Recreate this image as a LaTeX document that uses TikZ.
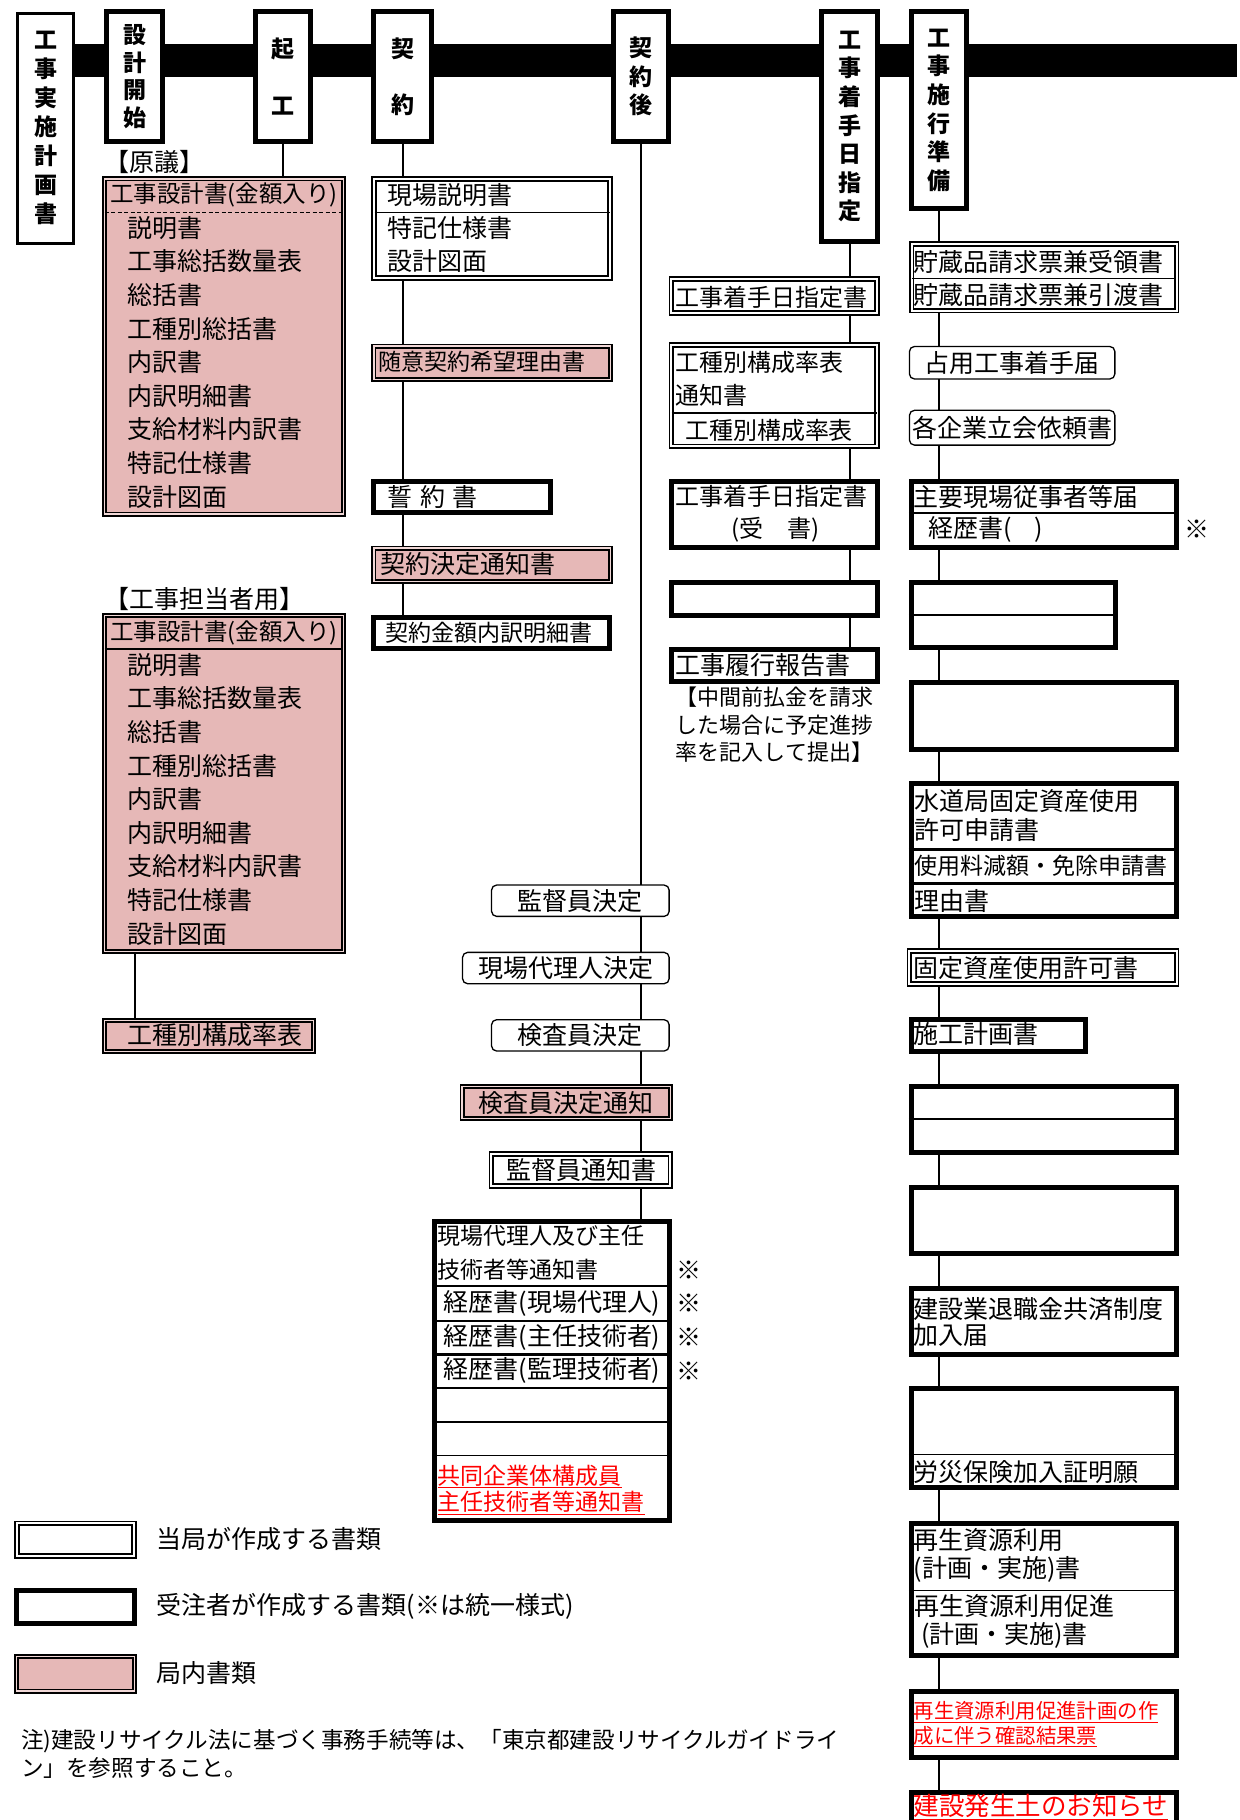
\documentclass[tikz,border=0pt]{standalone}
\usepackage{fontspec}
\setmainfont{Noto Sans CJK JP}
\usetikzlibrary{fit,backgrounds}
\begin{document}
\begin{tikzpicture}[x=1.161pt,y=-1.161pt,
  hdr/.style={draw,fill=white,line width=5pt,inner sep=-2.5pt},
  vtxt/.style={inner sep=0pt,align=center,font=\fontsize{23}{28.6}\selectfont\bfseries},
  toubox/.style={draw,fill=white,line width=1.8pt,double=white,double distance=2pt,inner sep=-2.8pt},
  juchubox/.style={draw,fill=white,line width=5pt,inner sep=-2.5pt},
  kyokubox/.style={draw,fill=kyokupink,line width=1.8pt,double=kyokupink!55!white,double distance=1.4pt,inner sep=-2.5pt},
  kimebox/.style={draw,fill=white,line width=1.3pt,rounded corners=5pt,inner sep=-0.6pt},
  ctxt/.style={inner sep=0pt,font=\fontsize{25}{30}\selectfont},
  txt/.style={anchor=west,inner sep=0pt,align=left,font=\fontsize{25}{33.6}\selectfont},
  toubar/.style={line width=1.8pt,shorten <=1.2pt,shorten >=1.2pt},
  juchubar/.style={line width=2.5pt},
  thinbar/.style={line width=1pt},
  conn/.style={line width=1.8pt}]
\definecolor{kyokupink}{RGB}{230,184,183}
\definecolor{akacolor}{RGB}{255,0,0}
\useasboundingbox (0,0) rectangle (1068,1568);
\node[hdr,line width=3pt,inner sep=-1.5pt,fit={(14,10) (65,211)}] (jisshi) {};
\node[vtxt,font=\fontsize{23}{29}\selectfont\bfseries] (jisshi-txt) at (jisshi) {工\\事\\実\\施\\計\\画\\書};
\node[hdr,fit={(90,8) (142,124)}] (sekkei) {};
\node[vtxt,font=\fontsize{23}{27.9}\selectfont\bfseries] (sekkei-txt) at (sekkei) {設\\計\\開\\始};
\node[hdr,fit={(218,8) (270,124)}] (kikou) {};
\node[vtxt] (kikou-txt) at (kikou) {起\\[28pt]工};
\node[hdr,fit={(320,8) (374,124)}] (keiyaku) {};
\node[vtxt] (keiyaku-txt) at (keiyaku) {契\\[28pt]約};
\node[hdr,fit={(526,8) (578,124)}] (keiyakugo) {};
\node[vtxt] (keiyakugo-txt) at (keiyakugo) {契\\約\\後};
\node[hdr,fit={(706,8) (758,210)}] (chakushu) {};
\node[vtxt] (chakushu-txt) at (chakushu) {工\\事\\着\\手\\日\\指\\定};
\node[hdr,fit={(783,8) (835,182)}] (junbi) {};
\node[vtxt] (junbi-txt) at (junbi) {工\\事\\施\\行\\準\\備};
\node[txt] (gengi-lbl) at (90,140) {【原議】};
\node[kyokubox,fit={(88,152) (298,445)}] (gengi) {};
\node[txt,font=\fontsize{23.5}{28}\selectfont] (gengi-head) at (95,168) {工事設計書(金額入り)};
\draw[line width=1.6pt,dash pattern=on 4pt off 2.5pt,shorten <=1pt,shorten >=1pt] (gengi.west |- 0,183) -- (gengi.east |- 0,183);
\node[txt] (gengi-list) at (110,312) {説明書\\工事総括数量表\\総括書\\工種別総括書\\内訳書\\内訳明細書\\支給材料内訳書\\特記仕様書\\設計図面};
\node[txt] (tanto-lbl) at (90,516) {【工事担当者用】};
\node[kyokubox,fit={(88,528) (298,822)}] (tanto) {};
\node[txt,font=\fontsize{23.5}{28}\selectfont] (tanto-head) at (95,545) {工事設計書(金額入り)};
\draw[line width=1.8pt,shorten <=1pt,shorten >=1pt] (tanto.west |- 0,559) -- (tanto.east |- 0,559);
\node[txt] (tanto-list) at (110,688.5) {説明書\\工事総括数量表\\総括書\\工種別総括書\\内訳書\\内訳明細書\\支給材料内訳書\\特記仕様書\\設計図面};
\node[kyokubox,fit={(88,877) (272,908)}] (kousei) {};
\node[txt] (kousei-txt) at (110,892) {工種別構成率表};
\node[toubox,fit={(320,152) (528,242)}] (genba) {};
\node[txt] (genba-1) at (334,168) {現場説明書};
\draw[toubar] (genba.west |- 0,183) -- (genba.east |- 0,183);
\node[txt] (genba-2) at (334,210.5) {特記仕様書\\設計図面};
\node[kyokubox,fit={(320,296) (528,329)}] (zuii) {};
\node[txt,font=\fontsize{23}{28}\selectfont] (zuii-txt) at (326,312) {随意契約希望理由書};
\node[juchubox,fit={(320,413) (476,444)}] (seiyaku) {};
\node[txt] (seiyaku-txt) at (334,428) {誓\hspace{0.3em}約\hspace{0.3em}書};
\node[kyokubox,fit={(320,470) (528,503)}] (kettei) {};
\node[txt] (kettei-txt) at (328,486) {契約決定通知書};
\node[juchubox,fit={(320,530) (527,561)}] (kingaku) {};
\node[txt,font=\fontsize{23}{28}\selectfont] (kingaku-txt) at (332,545) {契約金額内訳明細書};
\node[kimebox,fit={(423,762) (577,790)}] (kantoku) {};
\node[ctxt] (kantoku-txt) at (kantoku) {監督員決定};
\node[kimebox,fit={(398,820) (577,848)}] (dairinin) {};
\node[ctxt] (dairinin-txt) at (dairinin) {現場代理人決定};
\node[kimebox,fit={(423,878) (577,906)}] (kensa) {};
\node[ctxt] (kensa-txt) at (kensa) {検査員決定};
\node[kyokubox,fit={(396,934) (580,966)}] (kensa-tsuchi) {};
\node[txt] (kensa-tsuchi-txt) at (412,950) {検査員決定通知};
\node[toubox,fit={(421,992) (580,1024)}] (kantoku-tsuchi) {};
\node[txt] (kantoku-tsuchi-txt) at (436,1008) {監督員通知書};
\node[juchubox,fit={(372,1050) (579,1312)}] (dairirin) {};
\node[txt,font=\fontsize{23}{33.6}\selectfont] (dairirin-txt) at (377,1079.5) {現場代理人及び主任\\技術者等通知書};
\draw[juchubar] (dairirin.west |- 0,1108) -- (dairirin.east |- 0,1108);
\node[txt] (keireki-1) at (382,1123) {経歴書(現場代理人)};
\draw[juchubar] (dairirin.west |- 0,1138) -- (dairirin.east |- 0,1138);
\node[txt] (keireki-2) at (382,1152) {経歴書(主任技術者)};
\draw[juchubar] (dairirin.west |- 0,1167) -- (dairirin.east |- 0,1167);
\node[txt] (keireki-3) at (382,1181) {経歴書(監理技術者)};
\draw[juchubar] (dairirin.west |- 0,1196) -- (dairirin.east |- 0,1196);
\draw[juchubar] (dairirin.west |- 0,1225) -- (dairirin.east |- 0,1225);
\draw[thinbar] (dairirin.west |- 0,1254) -- (dairirin.east |- 0,1254);
\node[txt,text=akacolor,font=\fontsize{23}{26.7}\selectfont] (kyodo-txt) at (377,1283.5) {\underline{共同企業体構成員}\\\underline{主任技術者等通知書}};
\node[txt] (kome-1) at (583,1094) {※};
\node[txt] (kome-2) at (583,1123) {※};
\node[txt] (kome-3) at (583,1152) {※};
\node[txt] (kome-4) at (583,1181) {※};
\node[toubox,fit={(576,238) (758,272)}] (shitei) {};
\node[txt,font=\fontsize{24}{28}\selectfont] (shitei-txt) at (582,256) {工事着手日指定書};
\node[toubox,fit={(576,295) (758,387)}] (kouseiritsu) {};
\node[txt,font=\fontsize{24}{33.6}\selectfont] (kouseiritsu-1) at (582,326.5) {工種別構成率表\\通知書};
\draw[toubar] (kouseiritsu.west |- 0,356) -- (kouseiritsu.east |- 0,356);
\node[txt,font=\fontsize{24}{28}\selectfont] (kouseiritsu-2) at (590,371) {工種別構成率表};
\node[juchubox,fit={(576,413) (758,474)}] (ukesho) {};
\node[txt,font=\fontsize{24}{28}\selectfont] (ukesho-1) at (582,428) {工事着手日指定書};
\node[inner sep=0pt,font=\fontsize{24}{28}\selectfont] (ukesho-2) at (668,456) {(受\hspace{1em}書)};
\node[juchubox,fit={(576,500) (758,532)}] (chakushu-kara) {};
\node[juchubox,fit={(576,557) (758,589)}] (rikou) {};
\node[txt] (rikou-txt) at (582,573) {工事履行報告書};
\node[txt,font=\fontsize{22}{27.3}\selectfont] (rikou-note) at (582,624.5) {【中間前払金を請求\\した場合に予定進捗\\率を記入して提出】};
\node[toubox,fit={(783,208) (1016,270)}] (chozo) {};
\node[txt] (chozo-1) at (787,226) {貯蔵品請求票兼受領書};
\draw[toubar] (chozo.west |- 0,240) -- (chozo.east |- 0,240);
\node[txt] (chozo-2) at (787,254) {貯蔵品請求票兼引渡書};
\node[kimebox,fit={(783,298) (961,327)}] (senyo) {};
\node[ctxt] (senyo-txt) at (senyo) {占用工事着手届};
\node[kimebox,fit={(783,353) (961,384)}] (tachiai) {};
\node[ctxt] (tachiai-txt) at (tachiai) {各企業立会依頼書};
\node[juchubox,fit={(783,413) (1016,474)}] (jugyosha) {};
\node[txt] (jugyosha-1) at (787,428) {主要現場従事者等届};
\draw[juchubar] (jugyosha.west |- 0,442) -- (jugyosha.east |- 0,442);
\node[txt] (jugyosha-2) at (800,456) {経歴書(\hspace{0.9em})};
\node[txt] (kome-5) at (1020,456) {※};
\node[juchubox,fit={(783,500) (963,560)}] (junbi-kara1) {};
\draw[juchubar] (junbi-kara1.west |- 0,530) -- (junbi-kara1.east |- 0,530);
\node[juchubox,fit={(783,586) (1016,648)}] (junbi-kara2) {};
\node[juchubox,fit={(783,673) (1016,792)}] (suido) {};
\node[txt,font=\fontsize{25}{29}\selectfont] (suido-1) at (788,702.5) {水道局固定資産使用\\許可申請書};
\draw[juchubar] (suido.west |- 0,732) -- (suido.east |- 0,732);
\node[txt,font=\fontsize{23}{28}\selectfont] (suido-2) at (788,746) {使用料減額・免除申請書};
\draw[juchubar] (suido.west |- 0,761) -- (suido.east |- 0,761);
\node[txt] (suido-3) at (788,776) {理由書};
\node[toubox,fit={(781,817) (1016,850)}] (koteishisan) {};
\node[txt] (koteishisan-txt) at (787,834) {固定資産使用許可書};
\node[juchubox,fit={(783,876) (937,908)}] (sekou) {};
\node[txt] (sekou-txt) at (787,891) {施工計画書};
\node[juchubox,fit={(783,934) (1016,995)}] (junbi-kara3) {};
\draw[juchubar] (junbi-kara3.west |- 0,964) -- (junbi-kara3.east |- 0,964);
\node[juchubox,fit={(783,1021) (1016,1082)}] (junbi-kara4) {};
\node[juchubox,fit={(783,1108) (1016,1169)}] (taishoku) {};
\node[txt,font=\fontsize{25}{25.6}\selectfont] (taishoku-txt) at (787,1139) {建設業退職金共済制度\\加入届};
\node[juchubox,fit={(783,1194) (1016,1284)}] (rousai) {};
\draw[thinbar] (rousai.west |- 0,1253) -- (rousai.east |- 0,1253);
\node[txt] (rousai-txt) at (787,1268) {労災保険加入証明願};
\node[juchubox,fit={(783,1310) (1016,1428)}] (saisei) {};
\node[txt,font=\fontsize{25}{27.9}\selectfont] (saisei-1) at (787,1340) {再生資源利用\\(計画・実施)書};
\draw[thinbar] (saisei.west |- 0,1370) -- (saisei.east |- 0,1370);
\node[txt,font=\fontsize{25}{27.9}\selectfont] (saisei-2) at (788,1397) {再生資源利用促進\\\hspace*{0.25em}(計画・実施)書};
\node[juchubox,fit={(783,1455) (1016,1516)}] (kakunin) {};
\node[txt,text=akacolor,font=\fontsize{20.4}{24.4}\selectfont] (kakunin-txt) at (787,1485.5) {\underline{再生資源利用促進計画の作}\\\underline{成に伴う確認結果票}};
\node[juchubox,fit={(783,1542) (1016,1600)}] (hasseido) {};
\node[txt,text=akacolor,font=\fontsize{25.5}{30}\selectfont] (hasseido-txt) at (787,1557) {\underline{建設発生土のお知らせ}};
\node[toubox,fit={(12,1310) (118,1343)}] (leg-tou) {};
\node[txt] (leg-tou-txt) at (135,1326) {当局が作成する書類};
\node[juchubox,fit={(12,1368) (118,1401)}] (leg-juchu) {};
\node[txt] (leg-juchu-txt) at (135,1384) {受注者が作成する書類(※は統一様式)};
\node[kyokubox,fit={(12,1425) (118,1459)}] (leg-kyoku) {};
\node[txt] (leg-kyoku-txt) at (135,1441) {局内書類};
\node[txt,font=\fontsize{22.6}{27.9}\selectfont] (chu) at (18,1511) {注)建設リサイクル法に基づく事務手続等は、「東京都建設リサイクルガイドライ\\ン」を参照すること。};
\begin{scope}[on background layer]
\fill (39,38) rectangle (1066,66);
\draw[conn] (kikou.south) -- (kikou.south |- gengi.north);
\draw[conn] (keiyaku.south) -- (keiyaku.south |- kingaku.north);
\draw[conn] (keiyakugo.south) -- (keiyakugo.south |- dairirin.north);
\draw[conn] (chakushu.south) -- (chakushu.south |- rikou.north);
\draw[conn] (junbi.south) -- (junbi.south |- hasseido.north);
\draw[conn] (tanto.south -| sekkei.south) -- (kousei.north -| sekkei.south);
\end{scope}
\end{tikzpicture}
\end{document}
